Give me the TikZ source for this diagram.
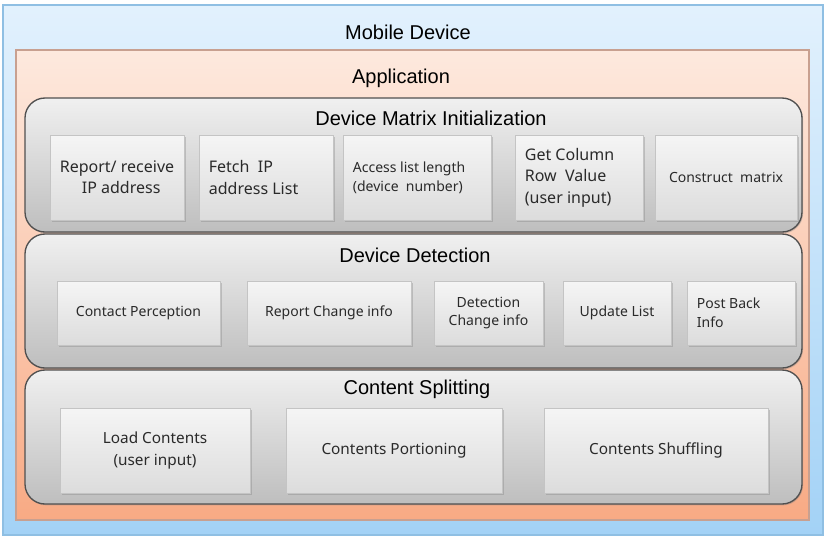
\documentclass[tikz,border=0pt]{standalone}
\usepackage{fontspec}
\setmainfont{Liberation Sans}
\newfontfamily\boxfont{Noto Sans}
\usetikzlibrary{shadows,fit}
\definecolor{bluetop}{HTML}{E2F1FD}
\definecolor{bluebot}{HTML}{A3D2F6}
\definecolor{blueedge}{HTML}{8FBFE3}
\definecolor{ortop}{HTML}{FDE9DE}
\definecolor{orbot}{HTML}{F8AA84}
\definecolor{oredge}{HTML}{C8A090}
\definecolor{grptop}{HTML}{F0F0F0}
\definecolor{grpbot}{HTML}{BEBEBE}
\definecolor{grpedge}{HTML}{505050}
\definecolor{itemtop}{HTML}{F5F5F5}
\definecolor{itembot}{HTML}{DCDCDC}
\definecolor{itemedge}{HTML}{C4C4C4}
\definecolor{txtcol}{HTML}{2A2A2A}
\tikzset{
  outerbox/.style={draw=blueedge, line width=0.8pt, top color=bluetop, bottom color=bluebot, inner sep=0pt},
  appbox/.style={draw=oredge, line width=0.8pt, top color=ortop, bottom color=orbot, inner sep=0pt},
  grp/.style={draw=grpedge, line width=1pt, rounded corners=15pt, top color=grptop, bottom color=grpbot, inner sep=0pt,
    drop shadow={shadow xshift=0.8pt, shadow yshift=-1pt, opacity=0.35}},
  item/.style={draw=itemedge, line width=0.6pt, top color=itemtop, bottom color=itembot, inner sep=0pt,
    drop shadow={shadow xshift=1.2pt, shadow yshift=-1.5pt, opacity=0.35}},
  ttl/.style={font=\fontsize{15}{17}\selectfont, text=black, inner sep=0pt},
  itxt/.style={text=txtcol, inner sep=0pt},
}
\newcommand\cbox[7]{%
  \node[item, fit={(#2,#3) (#4,#5)}] (#1) {};
  \node[itxt, font=\boxfont#7, align=center] (#1t) at (#1.center) {#6};}
\newcommand\lbox[7]{%
  \node[item, fit={(#2,#3) (#4,#5)}] (#1) {};
  \node[itxt, font=\boxfont#7, align=left, anchor=west] (#1t) at ([xshift=7.5pt]#1.west) {#6};}
\begin{document}
\begin{tikzpicture}[x=0.75pt,y=-0.75pt]
\useasboundingbox (0,0) rectangle (827,540);
\fill[white] (0,0) rectangle (827,540);
% outer
\node[outerbox, fit={(3,5) (823,535)}] (mobile) {};
\node[ttl] (mobilet) at (408,32) {Mobile Device};
\node[appbox, fit={(16,50) (809,520)}] (app) {};
\node[ttl] (appt) at (401,78) {Application};
% groups
\node[grp, fit={(25,98) (802,232)}] (dmi) {};
\node[ttl] (dmit) at (431,118) {Device Matrix Initialization};
\node[grp, fit={(25,234) (802,368)}] (dd) {};
\node[ttl] (ddt) at (415,255) {Device Detection};
\node[grp, fit={(25,370) (802,504)}] (cs) {};
\node[ttl] (cst) at (417,389) {Content Splitting};
% DMI items
\cbox{a1}{50}{135}{184}{220}{Report/ receive\\\ \ IP address}{\fontsize{12}{16}\selectfont}
\lbox{a2}{199}{135}{333}{220}{Fetch\ \ IP\\address List}{\fontsize{12}{16}\selectfont}
\lbox{a3}{343}{135}{491}{220}{Access list length\\(device\ \ number)}{\fontsize{10.5}{14}\selectfont}
\lbox{a4}{515}{135}{643}{220}{Get Column\\Row\ \ Value\\(user input)}{\fontsize{12}{16}\selectfont}
\cbox{a5}{655}{135}{797}{220}{Construct\ \ matrix}{\fontsize{10.5}{14}\selectfont}
% DD items
\cbox{b1}{57}{281}{220}{345}{Contact Perception}{\fontsize{10.5}{14}\selectfont}
\cbox{b2}{247}{281}{411}{345}{Report Change info}{\fontsize{10.5}{14}\selectfont}
\cbox{b3}{434}{281}{543}{345}{Detection\\Change info}{\fontsize{10.5}{14}\selectfont}
\cbox{b4}{563}{281}{671}{345}{Update List}{\fontsize{10.5}{14}\selectfont}
\lbox{b5}{687}{281}{795}{345}{Post Back\\Info}{\fontsize{10.5}{14}\selectfont}
% CS items
\cbox{c1}{60}{408}{250}{493}{Load Contents\\(user input)}{\fontsize{11.5}{16}\selectfont}
\cbox{c2}{286}{408}{502}{493}{Contents Portioning}{\fontsize{11.5}{16}\selectfont}
\cbox{c3}{544}{408}{768}{493}{Contents Shuffling}{\fontsize{11.5}{16}\selectfont}
\end{tikzpicture}
\end{document}
